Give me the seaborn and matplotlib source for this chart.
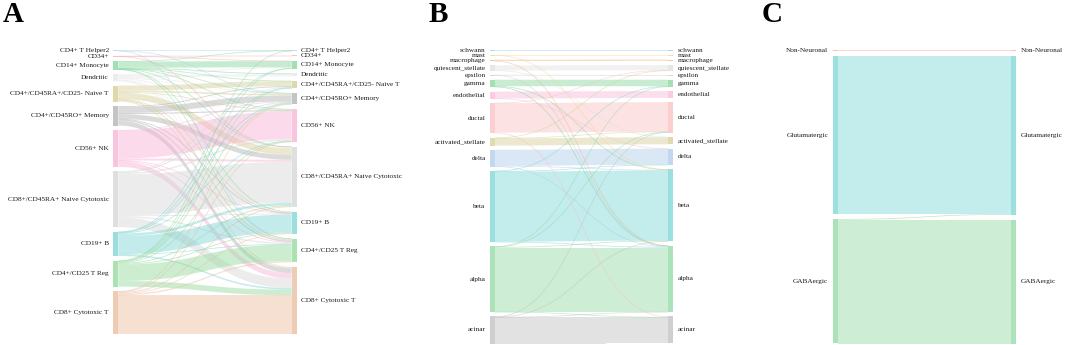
import numpy as np
import matplotlib.pyplot as plt
import seaborn as sns
from matplotlib.patches import Rectangle

sns.set_theme(style="white")
plt.rcParams['font.family'] = ['Liberation Serif', 'DejaVu Serif']

# ---- panel A : PBMC ----
pbmc_labels = ["CD4+ T Helper2", "CD34+", "CD14+ Monocyte", "Dendritic",
               "CD4+/CD45RA+/CD25- Naive T", "CD4+/CD45RO+ Memory", "CD56+ NK",
               "CD8+/CD45RA+ Naive Cytotoxic", "CD19+ B", "CD4+/CD25 T Reg",
               "CD8+ Cytotoxic T"]
pbmc_colors = ["#a8d0f0", "#f7a8a8", "#80d79b", "#e6e6e6", "#d5cc92", "#b1b1b1",
               "#f8b1d3", "#d5d5d5", "#7ad3d3", "#90d999", "#e9bc9b"]
# rows: left column, columns: right column
pbmc_flows = [
    [60, 0, 0, 0, 0, 20, 0, 0, 0, 20, 0],
    [0, 60, 20, 0, 0, 0, 0, 20, 0, 0, 0],
    [10, 0, 620, 80, 20, 20, 20, 20, 20, 20, 0],
    [0, 0, 80, 220, 0, 50, 50, 120, 80, 50, 20],
    [0, 0, 0, 0, 500, 150, 50, 650, 30, 100, 120],
    [0, 0, 0, 0, 80, 600, 100, 500, 30, 150, 480],
    [0, 0, 0, 0, 0, 30, 2800, 200, 30, 60, 550],
    [0, 0, 0, 0, 50, 100, 150, 4100, 80, 140, 950],
    [0, 0, 30, 0, 50, 50, 50, 250, 1800, 50, 150],
    [20, 0, 40, 0, 50, 80, 40, 80, 80, 1650, 560],
    [0, 0, 0, 0, 0, 40, 40, 120, 70, 130, 3900],
]

# ---- panel B : pancreas ----
panc_labels = ["schwann", "mast", "macrophage", "quiescent_stellate", "epsilon",
               "gamma", "endothelial", "ductal", "activated_stellate", "delta",
               "beta", "alpha", "acinar"]
panc_colors = ["#94caf2", "#f8d780", "#ebb68e", "#e0e0e0", "#cacad7", "#87d59b",
               "#fabad9", "#fac0c0", "#d5ce95", "#afcce9", "#7ad5d5", "#90d9a2",
               "#bfbfbf"]
panc_flows = [
    [13, 0, 0, 0, 0, 0, 0, 0, 0, 0, 0, 0, 0],
    [0, 19, 0, 0, 0, 0, 0, 0, 0, 0, 6, 0, 0],
    [0, 0, 50, 0, 0, 0, 0, 0, 0, 0, 0, 5, 0],
    [0, 0, 0, 178, 0, 0, 0, 0, 12, 0, 0, 0, 0],
    [0, 0, 0, 0, 12, 0, 0, 0, 0, 0, 0, 6, 0],
    [0, 0, 0, 0, 0, 230, 0, 0, 0, 0, 12, 28, 0],
    [0, 0, 0, 0, 0, 0, 246, 0, 0, 6, 0, 0, 0],
    [0, 0, 0, 8, 0, 0, 0, 1045, 0, 0, 0, 0, 24],
    [0, 0, 0, 22, 0, 0, 0, 10, 252, 0, 0, 0, 0],
    [0, 0, 0, 0, 0, 0, 0, 0, 0, 570, 20, 11, 0],
    [0, 0, 0, 0, 0, 8, 0, 0, 0, 15, 2480, 22, 0],
    [0, 0, 0, 0, 0, 12, 0, 6, 0, 0, 20, 2280, 8],
    [0, 0, 0, 0, 0, 0, 0, 18, 0, 0, 6, 9, 925],
]

# ---- panel C : brain ----
brain_labels = ["Non-Neuronal", "Glutamatergic", "GABAergic"]
brain_colors = ["#f7a8a8", "#7ad5d5", "#90d9a2"]
brain_flows = [
    [20, 0, 0],
    [0, 3150, 0],
    [0, 15, 2470],
]


def column_layout(totals, top, bottom, pad):
    totals = np.asarray(totals, float)
    k = (bottom - top - (len(totals) - 1) * pad) / totals.sum()
    h = totals * k
    y0 = top + np.concatenate([[0], np.cumsum(h[:-1] + pad)])
    return y0, h, k


def sankey(ax, labels, colors, flows, xl, xr, top, bottom, pad, w=5):
    flows = np.asarray(flows, float)
    ly, lh, k = column_layout(flows.sum(axis=1), top, bottom, pad)
    ry, rh, _ = column_layout(flows.sum(axis=0), top, bottom, pad)
    x0, x1 = xl + w, xr
    xm = (x0 + x1) / 2
    u = np.linspace(0, 1, 80)
    bx = x0 * (1 - u) ** 3 + 3 * xm * (1 - u) ** 2 * u + 3 * xm * (1 - u) * u ** 2 + x1 * u ** 3
    s = 3 * u ** 2 - 2 * u ** 3
    src_off = ly.copy()
    tgt_off = ry.copy()
    # offsets at target follow source order, at source follow target order
    starts = {}
    for i in range(len(labels)):
        for j in range(len(labels)):
            if flows[i, j] > 0:
                starts[(i, j)] = src_off[i]
                src_off[i] += flows[i, j] * k
    ends = {}
    for j in range(len(labels)):
        for i in range(len(labels)):
            if flows[i, j] > 0:
                ends[(i, j)] = tgt_off[j]
                tgt_off[j] += flows[i, j] * k
    for (i, j), sy in starts.items():
        ty = ends[(i, j)]
        t = flows[i, j] * k
        if t < 1.0:
            yc = (sy + t / 2) + ((ty + t / 2) - (sy + t / 2)) * s
            ax.plot(bx, yc, color=colors[i], alpha=0.55, lw=max(t, 0.7) * 0.72,
                    solid_capstyle="butt")
        else:
            ytop = sy + (ty - sy) * s
            ybot = ytop + t
            ax.fill(np.r_[bx, bx[::-1]], np.r_[ytop, ybot[::-1]],
                    color=colors[i], alpha=0.45, lw=0)
    for n, lab in enumerate(labels):
        for xx, yy, hh, side in ((xl, ly[n], lh[n], "L"), (xr, ry[n], rh[n], "R")):
            hd = max(hh, 1.0)
            yd = yy + hh / 2 - hd / 2
            ax.add_patch(Rectangle((xx, yd), w, hd, color=colors[n], alpha=0.75, lw=0))
            if side == "L":
                ax.text(xx - 4.5, yy + hh / 2, lab, ha="right", va="center",
                        fontsize=5.25, color="#1a1a1a")
            else:
                ax.text(xx + w + 4.5, yy + hh / 2, lab, ha="left", va="center",
                        fontsize=5.25, color="#1a1a1a")


fig = plt.figure(figsize=(10.65, 3.45), dpi=100)
ax = fig.add_axes([0, 0, 1, 1])
ax.set_xlim(0, 1065)
ax.set_ylim(345, 0)
ax.axis("off")

sankey(ax, pbmc_labels, pbmc_colors, pbmc_flows, 113.3, 291.7, 50.2, 334.2, 4.6)
sankey(ax, panc_labels, panc_colors, panc_flows, 490.0, 668.3, 50.2, 343.5, 4.2)
sankey(ax, brain_labels, brain_colors, brain_flows, 832.7, 1011.3, 50.2, 343.5, 5.0)

for letter, xx in (("A", 3), ("B", 429), ("C", 762)):
    ax.text(xx, 1, letter, ha="left", va="top", fontsize=21, fontweight="bold",
            color="black")

fig.savefig("out.png", dpi=100)
